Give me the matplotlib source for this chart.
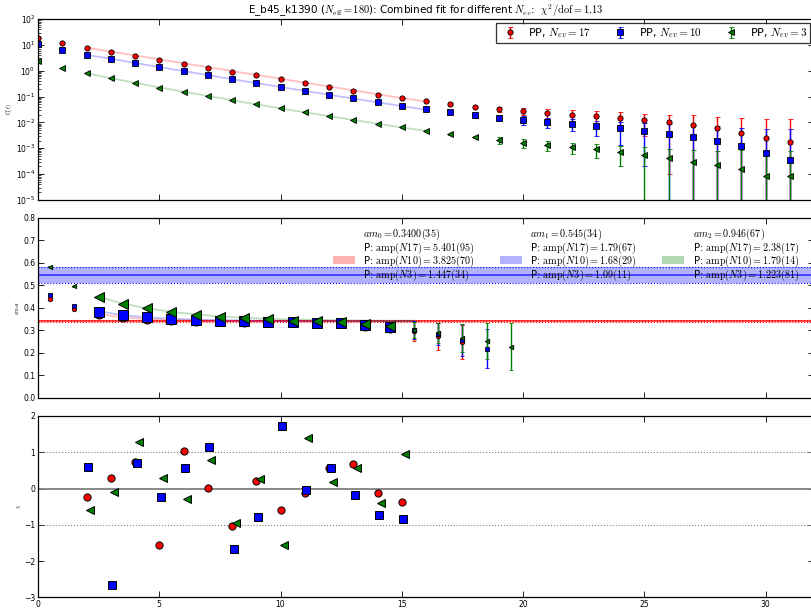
import numpy as np
import matplotlib
matplotlib.use("Agg")
import matplotlib.pyplot as plt
from matplotlib.patches import Rectangle

plt.rcParams['font.family'] = 'DejaVu Sans'
plt.rcParams['mathtext.fontset'] = 'cm'

# correlator C(t) for the three eigenvector counts, t = 0..31
t_corr = np.arange(32)
c_n17 = [18, 12, 7.9, 5.5, 3.75, 2.6, 1.9, 1.32, 0.92, 0.66, 0.46, 0.34, 0.235, 0.17, 0.12, 0.088,
         0.065, 0.050, 0.040, 0.032, 0.0277, 0.023, 0.0202, 0.018, 0.015, 0.0126, 0.0101, 0.0080,
         0.0059, 0.0039, 0.0024, 0.0018]
c_n17_err = [0.2, 0.12, 0.06, 0.04, 0.025, 0.017, 0.012, 0.008, 0.006, 0.004, 0.003, 0.0025, 0.002,
             0.002, 0.002, 0.0025, 0.003, 0.004, 0.005, 0.007, 0.0087, 0.0095, 0.0095, 0.0095, 0.0095,
             0.0095, 0.010, 0.011, 0.011, 0.011, 0.011, 0.012]
c_n10 = [10.5, 6.4, 4.1, 2.9, 2.0, 1.36, 0.95, 0.69, 0.46, 0.34, 0.235, 0.165, 0.119, 0.085, 0.062,
         0.044, 0.033, 0.025, 0.0187, 0.0152, 0.0127, 0.0104, 0.0090, 0.0074, 0.0059, 0.0047, 0.0037,
         0.00275, 0.0020, 0.00123, 0.00064, 0.00036]
c_n10_err = [0.1, 0.06, 0.03, 0.02, 0.013, 0.009, 0.006, 0.004, 0.003, 0.0025, 0.002, 0.0015, 0.0012,
             0.0012, 0.0012, 0.0012, 0.002, 0.0025, 0.0035, 0.004, 0.0045, 0.0045, 0.0043, 0.0044,
             0.0046, 0.0045, 0.005, 0.0055, 0.0055, 0.005, 0.0051, 0.0054]
c_n3 = [2.3, 1.28, 0.79, 0.51, 0.34, 0.22, 0.15, 0.105, 0.071, 0.050, 0.035, 0.025, 0.0177, 0.0127,
        0.0089, 0.0066, 0.0048, 0.0035, 0.0027, 0.0021, 0.00163, 0.00133, 0.00109, 0.00094, 0.00074,
        0.00055, 0.00042, 0.000295, 0.00022, 0.000158, 0.000087, 0.000085]
c_n3_err = [0.03, 0.015, 0.008, 0.005, 0.003, 0.002, 0.0013, 0.0009, 0.0006, 0.0004, 0.0003, 0.0002,
            0.00015, 0.00012, 0.0001, 0.0001, 0.00012, 0.0002, 0.0003, 0.0006, 0.0006, 0.00055,
            0.00047, 0.00052, 0.00053, 0.00055, 0.00055, 0.0006, 0.00058, 0.00067, 0.00069, 0.00069]

# fit curves over the fit range t = 2..16
t_fit = np.arange(2, 17)
fit_n17 = [7.8, 5.5, 3.9, 2.75, 1.95, 1.38, 0.97, 0.69, 0.49, 0.345, 0.245, 0.174, 0.123, 0.088, 0.064]
fit_n10 = [4.1, 2.9, 2.0, 1.38, 0.97, 0.68, 0.47, 0.335, 0.235, 0.166, 0.118, 0.084, 0.06, 0.043, 0.031]
fit_n3 = [0.80, 0.51, 0.345, 0.226, 0.155, 0.106, 0.073, 0.050, 0.035, 0.0247, 0.0175, 0.0125,
          0.0089, 0.0064, 0.0047]

# effective masses, plotted at t + 1/2
meff_n17 = [0.439, 0.396, 0.371, 0.357, 0.348, 0.344, 0.341, 0.340, 0.337, 0.336, 0.335, 0.332,
            0.333, 0.318, 0.310, 0.296, 0.274, 0.246]
meff_n17_err = [0.003, 0.002, 0.002, 0.002, 0.002, 0.003, 0.003, 0.004, 0.004, 0.005, 0.006, 0.007,
                0.009, 0.012, 0.02, 0.042, 0.06, 0.076]
meff_n10 = [0.456, 0.409, 0.382, 0.368, 0.359, 0.350, 0.345, 0.342, 0.340, 0.338, 0.336, 0.332,
            0.334, 0.323, 0.316, 0.300, 0.283, 0.256, 0.218]
meff_n10_err = [0.003, 0.002, 0.002, 0.002, 0.002, 0.003, 0.003, 0.004, 0.004, 0.005, 0.006, 0.007,
                0.009, 0.012, 0.02, 0.04, 0.05, 0.07, 0.087]
meff_n3 = [0.582, 0.496, 0.448, 0.417, 0.397, 0.381, 0.368, 0.359, 0.353, 0.348, 0.342, 0.341,
           0.335, 0.329, 0.320, 0.302, 0.286, 0.264, 0.253, 0.227]
meff_n3_err = [0.003, 0.002, 0.002, 0.002, 0.002, 0.003, 0.003, 0.004, 0.004, 0.005, 0.006, 0.007,
               0.009, 0.012, 0.018, 0.035, 0.045, 0.063, 0.08, 0.105]

t_meff_fit = np.arange(2, 16) + 0.5
meff_fit_n17 = [0.371, 0.357, 0.349, 0.345, 0.343, 0.342, 0.341, 0.341, 0.340, 0.340, 0.340, 0.340,
                0.340, 0.340]
meff_fit_n10 = [0.384, 0.367, 0.357, 0.351, 0.347, 0.345, 0.343, 0.342, 0.341, 0.341, 0.340, 0.340,
                0.340, 0.340]
meff_fit_n3 = [0.449, 0.418, 0.397, 0.382, 0.370, 0.361, 0.355, 0.351, 0.348, 0.346, 0.344, 0.343,
               0.342, 0.342]

# fitted energies (value, error)
masses = [(0.3400, 0.0035), (0.545, 0.034), (0.946, 0.067)]
mass_colors = ['r', 'b', 'g']
mass_labels = [
    [r"$am_0=0.3400(35)$", r"P: $\mathrm{amp}(N17)=5.401(95)$",
     r"P: $\mathrm{amp}(N10)=3.825(70)$", r"P: $\mathrm{amp}(N3)=1.447(34)$"],
    [r"$am_1=0.545(34)$", r"P: $\mathrm{amp}(N17)=1.79(67)$",
     r"P: $\mathrm{amp}(N10)=1.68(29)$", r"P: $\mathrm{amp}(N3)=1.09(11)$"],
    [r"$am_2=0.946(67)$", r"P: $\mathrm{amp}(N17)=2.38(17)$",
     r"P: $\mathrm{amp}(N10)=1.79(14)$", r"P: $\mathrm{amp}(N3)=1.223(81)$"],
]

# normalised residuals over the fit range
t_res = np.arange(2, 16)
res_n17 = [-0.226, 0.298, 0.739, -1.55, 1.034, 0.014, -1.04, 0.207, -0.593, -0.133, 0.574, 0.684,
           -0.124, -0.381]
res_n10 = [0.584, -2.67, 0.712, -0.226, 0.574, 1.135, -1.66, -0.777, 1.723, -0.041, 0.574, -0.17,
           -0.74, -0.83]
res_n3 = [-0.584, -0.096, 1.282, 0.298, -0.28, 0.794, -0.96, 0.262, -1.558, 1.384, 0.171, 0.557,
          -0.408, 0.951]

series = [
    ("17", 'r', 'o', c_n17, c_n17_err, fit_n17, meff_n17, meff_n17_err, meff_fit_n17, res_n17, 0.0),
    ("10", 'b', 's', c_n10, c_n10_err, fit_n10, meff_n10, meff_n10_err, meff_fit_n10, res_n10, 0.07),
    ("3", 'g', '<', c_n3, c_n3_err, fit_n3, meff_n3, meff_n3_err, meff_fit_n3, res_n3, 0.15),
]

W, H = 811, 610
fig = plt.figure(figsize=(W / 100, H / 100), dpi=100)


def axes_px(x0, x1, y0, y1):
    return fig.add_axes([x0 / W, 1 - y1 / H, (x1 - x0) / W, (y1 - y0) / H])


ax_c = axes_px(38, 814, 19, 200)
ax_m = axes_px(38, 814, 217.7, 397.7)
ax_r = axes_px(38, 814, 416, 597.3)

for ax in (ax_c, ax_m, ax_r):
    ax.set_xlim(0, 32)
    ax.set_xticks(range(0, 31, 5))
    ax.tick_params(which='both', direction='in', top=True, right=True, labelsize=5.5, pad=2)
    ax.tick_params(which='major', length=4, width=0.6)
    ax.tick_params(which='minor', length=2, width=0.5)
    for s in ax.spines.values():
        s.set_linewidth(0.9)

# correlator panel
ax_c.set_yscale('log')
ax_c.set_ylim(1e-5, 1e2)
handles = []
for name, col, mk, c, ce, fit, *_ in series:
    h = ax_c.errorbar(t_corr, c, yerr=ce, fmt=mk, color=col, ecolor=col, mfc=col, mec='k',
                      ms=3.8, mew=0.6, elinewidth=1.0, capsize=1.8, capthick=0.8,
                      label=r"PP, $N_{ev}=%s$" % name)
    ax_c.plot(t_fit, fit, '-', color=col, alpha=0.25, lw=1.3)
    handles.append(h)
ax_c.set_xticklabels([])
ax_c.set_ylabel(r"$C(t)$", fontsize=4, labelpad=1)
leg = ax_c.legend(handles=handles, loc='upper right', ncol=3, fontsize=8, numpoints=1,
                  fancybox=False, borderaxespad=0.4, columnspacing=1.6, handlelength=2.0,
                  handletextpad=0.7, borderpad=0.25)
leg.get_frame().set_edgecolor('k')
leg.get_frame().set_linewidth(0.9)
ax_c.set_title(r"E_b45_k1390 ($N_{\mathrm{eff}}=180$): Combined fit for different $N_{ev}$:  "
               r"$\chi^2/\mathrm{dof}=1.13$", fontsize=7.5, pad=3)

# effective mass panel
for (m, dm), col in zip(masses, mass_colors):
    ax_m.axhspan(m - dm, m + dm, color=col, alpha=0.3, lw=0)
    ax_m.axhline(m, color=col, lw=1.2, alpha=0.7)
    ax_m.axhline(m - dm, color=col, lw=0.8, ls=':')
    ax_m.axhline(m + dm, color=col, lw=0.8, ls=':')

for name, col, mk, c, ce, fit, meff, meff_err, meff_fit, res, dx in series:
    tm = np.arange(len(meff)) + 0.5
    meff = np.array(meff)
    meff_err = np.array(meff_err)
    ax_m.plot(t_meff_fit, meff_fit, '-', color=col, alpha=0.25, lw=1.3)
    big = (tm > 2) & (tm < 15)
    ax_m.errorbar(tm[~big], meff[~big], yerr=meff_err[~big], fmt=mk, color=col, ecolor=col,
                  mfc=col, mec='k', ms=3.2, mew=0.6, elinewidth=1.0, capsize=1.5, capthick=0.8)
    ax_m.errorbar(tm[big], meff[big], yerr=meff_err[big], fmt=mk, color=col, ecolor=col,
                  mfc=col, mec='k', ms=6.5, mew=0.7, elinewidth=1.0, capsize=1.5, capthick=0.8)

ax_m.set_ylim(0, 0.8)
ax_m.set_yticks(np.arange(0, 0.81, 0.1))
ax_m.set_xticklabels([])
ax_m.set_ylabel(r"$am_{\rm eff}$", fontsize=4, labelpad=1)

# fit results next to their band colours, one text block per state
col_x = [363, 530, 693]
patch_x = [333, 500, 662]
for i, col in enumerate(mass_colors):
    fig.patches.append(Rectangle((patch_x[i] / W, 1 - 263.5 / H), 22 / W, 7.5 / H,
                                 transform=fig.transFigure, color=col, alpha=0.3, lw=0))
    fig.text(col_x[i] / W, 1 - 226.5 / H, "\n".join(mass_labels[i]), fontsize=7.3,
             ha='left', va='top', linespacing=0.85)

# residual panel
ax_r.axhline(0, color='grey', lw=1.3)
ax_r.axhline(1, color='grey', lw=0.8, ls=':')
ax_r.axhline(-1, color='grey', lw=0.8, ls=':')
for name, col, mk, *rest in series:
    res, dx = rest[-2], rest[-1]
    ax_r.plot(t_res + dx, res, mk, color=col, mec='k', ms=5.2, mew=0.7)
ax_r.set_ylim(-3, 2)
ax_r.set_yticks(range(-3, 3))
ax_r.set_ylabel(r"$\chi$", fontsize=4, labelpad=1)

fig.savefig("out.png", dpi=100)
